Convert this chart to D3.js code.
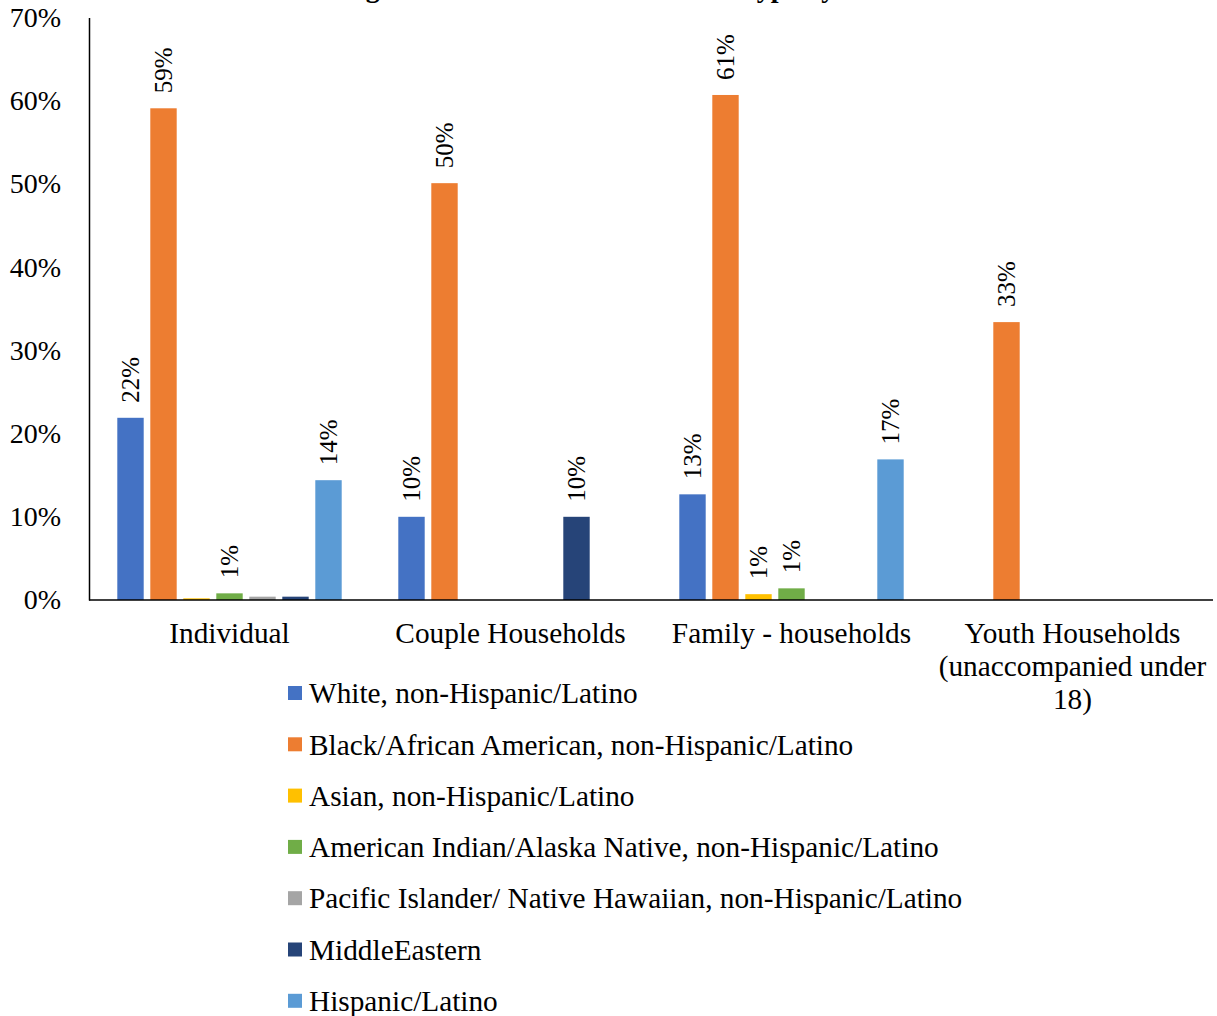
<!DOCTYPE html>
<html>
<head>
<meta charset="utf-8">
<script src="https://cdn.jsdelivr.net/npm/d3@7"></script>
<style>
  html, body { margin: 0; padding: 0; background: #fff; }
  svg { display: block; }
  text { font-family: "Liberation Serif", "Times New Roman", serif; fill: #000; }
</style>
</head>
<body>
<svg id="chart"></svg>
<script>
const categories = ["Individual", "Couple Households", "Family - households", "Youth Households (unaccompanied under 18)"];
const seriesNames = [
  "White, non-Hispanic/Latino",
  "Black/African American, non-Hispanic/Latino",
  "Asian, non-Hispanic/Latino",
  "American Indian/Alaska Native, non-Hispanic/Latino",
  "Pacific Islander/ Native Hawaiian, non-Hispanic/Latino",
  "MiddleEastern",
  "Hispanic/Latino"
];
const seriesColors = ["#4472C4", "#ED7D31", "#FFC000", "#70AD47", "#A5A5A5", "#264478", "#5B9BD5"];

// values per category (Individual, Couple, Family, Youth)
const white = [0.219, 0.100, 0.127, 0];
const black = [0.591, 0.501, 0.607, 0.334];
const asian = [0.002, 0, 0.007, 0];
const aian = [0.008, 0, 0.014, 0];
const pacific = [0.004, 0, 0, 0];
const middleEastern = [0.004, 0.100, 0, 0];
const hispanic = [0.144, 0, 0.169, 0];
const seriesValues = [white, black, asian, aian, pacific, middleEastern, hispanic];

const yTicks = [0, 0.1, 0.2, 0.3, 0.4, 0.5, 0.6, 0.7];
const title = "Racial Breakdown Among Homeless Clients' Household Type by Race";

const W = 1217, H = 1016;
const plotLeft = 89, plotRight = 1213, plotTop = 17.6, plotBottom = 600;

const svg = d3.select("#chart").attr("width", W).attr("height", H);

// title, cut off by the top edge like the reference
svg.append("text")
  .attr("x", 66)
  .attr("y", -3)
  .style("font-size", "28px")
  .style("font-weight", "bold")
  .text(title);

const x0 = d3.scaleBand().domain(categories).range([plotLeft, plotRight]);
const x1 = d3.scaleBand().domain(seriesNames).range([25, x0.bandwidth() - 25]).paddingInner(0.2).paddingOuter(0.1);
const y = d3.scaleLinear().domain([0, 0.7]).range([plotBottom, plotTop]);

// y axis
const yAxis = svg.append("g")
  .attr("transform", `translate(${plotLeft},0)`)
  .attr("font-family", null)
  .call(d3.axisLeft(y).tickValues(yTicks).tickFormat(d3.format(".0%")).tickSize(0).tickPadding(28));
yAxis.attr("font-family", null);
yAxis.select(".domain").attr("stroke", "#000").attr("stroke-width", 1.5);
yAxis.selectAll("text").style("font-size", "28px");

// bars
const rows = categories.map((c, i) => ({ cat: c, vals: seriesValues.map((s, j) => ({ name: seriesNames[j], color: seriesColors[j], v: s[i] })) }));

const groups = svg.append("g").selectAll("g")
  .data(rows)
  .join("g")
  .attr("transform", d => `translate(${x0(d.cat)},0)`);

groups.selectAll("rect")
  .data(d => d.vals.filter(v => v.v > 0))
  .join("rect")
  .attr("x", d => x1(d.name))
  .attr("width", x1.bandwidth())
  .attr("y", d => y(d.v))
  .attr("height", d => plotBottom - y(d.v))
  .attr("fill", d => d.color);

groups.selectAll("text.lbl")
  .data(d => d.vals.filter(v => Math.round(v.v * 100) >= 1))
  .join("text")
  .attr("class", "lbl")
  .attr("transform", d => `translate(${x1(d.name) + x1.bandwidth() / 2},${y(d.v) - 15}) rotate(-90)`)
  .attr("dy", "0.35em")
  .style("font-size", "25px")
  .text(d => d3.format(".0%")(d.v));

// x axis line
svg.append("line")
  .attr("x1", plotLeft).attr("x2", plotRight)
  .attr("y1", plotBottom).attr("y2", plotBottom)
  .attr("stroke", "#000").attr("stroke-width", 1.5);

// category labels, wrapped to the band width
const catLabels = svg.append("g").selectAll("text")
  .data(categories)
  .join("text")
  .attr("x", d => x0(d) + x0.bandwidth() / 2)
  .attr("y", 643)
  .attr("text-anchor", "middle")
  .style("font-size", "29.3px");

catLabels.each(function(d) {
  const t = d3.select(this);
  const words = d.split(" ");
  let line = [];
  let tspan = t.append("tspan").attr("x", t.attr("x")).attr("dy", 0);
  words.forEach(w => {
    line.push(w);
    tspan.text(line.join(" "));
    if (tspan.node().getComputedTextLength() > x0.bandwidth() - 2 && line.length > 1) {
      line.pop();
      tspan.text(line.join(" "));
      line = [w];
      tspan = t.append("tspan").attr("x", t.attr("x")).attr("dy", 33).text(w);
    }
  });
});

// legend
const legend = svg.append("g").selectAll("g")
  .data(seriesNames)
  .join("g")
  .attr("transform", (d, i) => `translate(288,${693 + i * 51.3})`);

legend.append("rect")
  .attr("x", 0).attr("y", -7)
  .attr("width", 14).attr("height", 14)
  .attr("fill", (d, i) => seriesColors[i]);

legend.append("text")
  .attr("x", 21)
  .attr("dy", "0.35em")
  .style("font-size", "29.3px")
  .text(d => d);
</script>
</body>
</html>
